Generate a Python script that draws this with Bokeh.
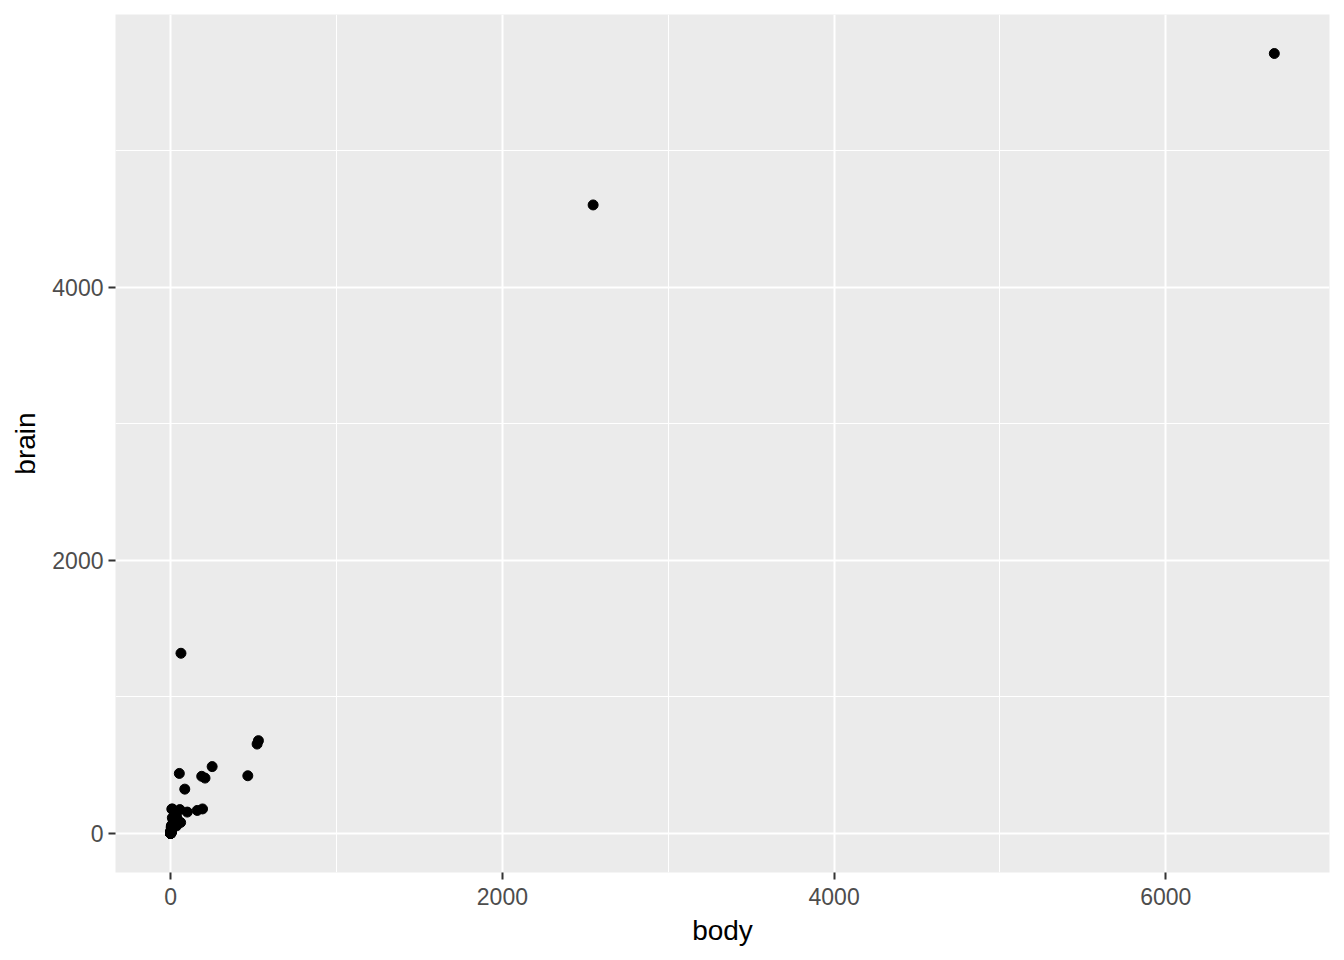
from bokeh.plotting import figure
from bokeh.models import FixedTicker, Range1d
from bokeh.embed import file_html
from bokeh.resources import INLINE

body = [3.385, 0.480, 1.350, 465.0, 36.33, 27.66, 14.83, 1.04, 4.19, 0.425,
        0.101, 0.920, 1.0, 0.005, 0.060, 3.5, 2.0, 1.7, 2547.0, 0.023,
        187.1, 521.0, 0.785, 10.0, 3.3, 0.2, 1.41, 529.0, 207.0, 85.0,
        0.75, 62.0, 6654.0, 3.5, 6.8, 35.0, 4.05, 0.12, 0.023, 0.01,
        1.4, 250.0, 2.5, 55.5, 100.0, 52.16, 10.55, 0.55, 60.0, 3.6,
        4.288, 0.28, 0.075, 0.122, 0.048, 192.0, 3.0, 160.0, 0.9, 1.62,
        0.104, 4.235]
brain = [44.5, 15.5, 8.1, 423.0, 119.5, 115.0, 98.2, 5.5, 58.0, 6.4,
         4.0, 5.7, 6.6, 0.14, 1.0, 10.8, 12.3, 6.3, 4603.0, 0.3,
         419.0, 655.0, 3.5, 115.0, 25.6, 5.0, 17.5, 680.0, 406.0, 325.0,
         12.3, 1320.0, 5712.0, 3.9, 179.0, 56.0, 17.0, 1.0, 0.4, 0.25,
         12.5, 490.0, 12.1, 175.0, 157.0, 440.0, 179.5, 2.4, 81.0, 21.0,
         39.2, 1.9, 1.2, 3.0, 0.33, 180.0, 25.0, 169.0, 2.6, 11.4,
         2.5, 50.4]

x_ticks = [0, 2000, 4000, 6000]
y_ticks = [0, 2000, 4000]
x_minor = [1000, 3000, 5000]
y_minor = [1000, 3000, 5000]

xmin, xmax = min(body), max(body)
ymin, ymax = min(brain), max(brain)
xpad = (xmax - xmin) * 0.05
ypad = (ymax - ymin) * 0.05

p = figure(output_backend="svg", toolbar_location=None,
           frame_width=1214, frame_height=858,
           min_border_left=115, min_border_right=7,
           min_border_top=14, min_border_bottom=74,
           x_range=Range1d(xmin - xpad, xmax + xpad),
           y_range=Range1d(ymin - ypad, ymax + ypad))

p.background_fill_color = "#EBEBEB"
p.border_fill_color = "white"
p.outline_line_color = None

for ax, ticks, minor in ((p.xaxis, x_ticks, x_minor), (p.yaxis, y_ticks, y_minor)):
    ax.ticker = FixedTicker(ticks=ticks, minor_ticks=minor)
    ax.axis_line_color = None
    ax.major_tick_line_color = "#333333"
    ax.major_tick_line_width = 2
    ax.major_tick_out = 7
    ax.major_tick_in = 0
    ax.minor_tick_line_color = None
    ax.major_label_text_font = "Liberation Sans"
    ax.major_label_text_font_size = "23px"
    ax.major_label_text_color = "#4D4D4D"
    ax.axis_label_text_font = "Liberation Sans"
    ax.axis_label_text_font_size = "28px"
    ax.axis_label_text_font_style = "normal"
    ax.axis_label_text_color = "black"

p.xaxis.axis_label = "body"
p.yaxis.axis_label = "brain"
p.xaxis.major_label_standoff = 8
p.yaxis.major_label_standoff = 5
p.xaxis.axis_label_standoff = 7
p.yaxis.axis_label_standoff = 8

for g in (p.xgrid, p.ygrid):
    g.grid_line_color = "white"
    g.grid_line_width = 2
    g.minor_grid_line_color = "white"
    g.minor_grid_line_width = 1

p.scatter(body, brain, size=10, color="black", line_color="black")

open("out.html", "w").write(file_html(p, INLINE))
